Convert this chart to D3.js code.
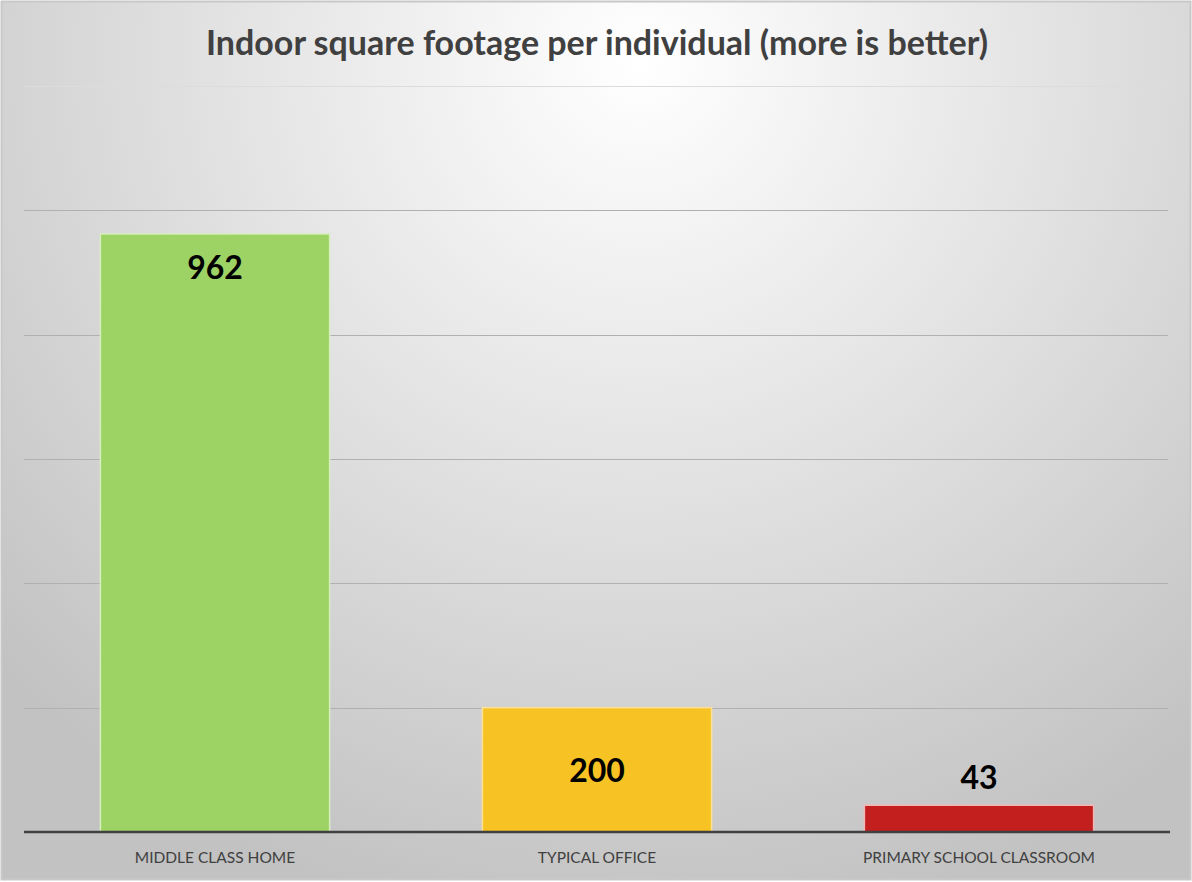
<!DOCTYPE html>
<html><head><meta charset="utf-8">
<script src="https://cdn.jsdelivr.net/npm/d3@7"></script>
<style>body{margin:0;background:#fff}svg{display:block}</style>
</head><body>
<svg id="c" width="1192" height="882"></svg>
<script>
const categories = ["MIDDLE CLASS HOME", "TYPICAL OFFICE", "PRIMARY SCHOOL CLASSROOM"];
const values = [962, 200, 43];
const colors = ["#9dd264", "#f7c223", "#c21f1e"];
const borders = ["#d6efbd", "#fbe09a", "#f2b6b5"];
const labelPos = ["inside", "center", "outside"];
const yTicks = [0, 200, 400, 600, 800, 1000, 1200];
const title = "Indoor square footage per individual (more is better)";

{
const W = 1192, H = 882;
const svg = d3.select("#c");
const defs = svg.append("defs");
const rg = defs.append("radialGradient").attr("id", "bg")
  .attr("gradientUnits", "userSpaceOnUse")
  .attr("cx", 640).attr("cy", 60).attr("r", 880);
rg.append("stop").attr("offset", "0").attr("stop-color", "#ffffff");
rg.append("stop").attr("offset", "0.45").attr("stop-color", "#e4e4e4");
rg.append("stop").attr("offset", "1").attr("stop-color", "#c2c2c2");

svg.append("rect").attr("x", 0).attr("y", 0).attr("width", W).attr("height", H).attr("fill", "#fff");
svg.append("rect").attr("x", 1.5).attr("y", 1.5).attr("width", W - 3).attr("height", H - 4)
  .attr("fill", "url(#bg)").attr("stroke", "#c8c8c8").attr("stroke-width", 2);

const pLeft = 24, pRight = 1170, pTop = 86, pBottom = 832;
const x = d3.scaleBand().domain(categories).range([pLeft, pRight]).paddingInner(0.4).paddingOuter(0.2);
const y = d3.scaleLinear().domain([0, 1200]).range([pBottom, pTop]);

svg.append("g").selectAll("line").data(yTicks.filter(d => d > 0)).join("line")
  .attr("x1", pLeft).attr("x2", pRight - 2)
  .attr("y1", d => Math.round(y(d)) + 0.5).attr("y2", d => Math.round(y(d)) + 0.5)
  .attr("stroke", d => d === 1200 ? "#dcdcdc" : "#b0b0b0").attr("stroke-width", 1.2);

svg.append("g").selectAll("rect").data(values).join("rect")
  .attr("x", (d, i) => x(categories[i]))
  .attr("y", d => y(d))
  .attr("width", x.bandwidth())
  .attr("height", d => pBottom - y(d))
  .attr("fill", (d, i) => colors[i])
  .attr("stroke", (d, i) => borders[i]).attr("stroke-width", 1.5);

svg.append("line").attr("x1", pLeft).attr("x2", pRight).attr("y1", pBottom).attr("y2", pBottom)
  .attr("stroke", "#404040").attr("stroke-width", 2.5);

svg.append("g").selectAll("text").data(categories).join("text")
  .attr("x", d => x(d) + x.bandwidth() / 2)
  .attr("y", 863)
  .attr("text-anchor", "middle")
  .attr("font-family", "Lato, 'Open Sans', sans-serif")
  .attr("font-size", 15.5).attr("fill", "#404040")
  .text(d => d);

svg.append("g").selectAll("text").data(values).join("text")
  .attr("x", (d, i) => x(categories[i]) + x.bandwidth() / 2)
  .attr("y", (d, i) => {
    const p = labelPos[i];
    if (p === "inside") return y(d) + 45;
    if (p === "center") return (y(d) + pBottom) / 2 + 12;
    return y(d) - 16;
  })
  .attr("text-anchor", "middle")
  .attr("font-family", "Lato, 'Open Sans', sans-serif")
  .attr("font-weight", "bold")
  .attr("font-size", 32).attr("fill", "#000")
  .text(d => d);

svg.append("text").attr("x", 597).attr("y", 55).attr("text-anchor", "middle")
  .attr("font-family", "Lato, 'Open Sans', sans-serif").attr("font-weight", "bold")
  .attr("font-size", 34).attr("fill", "#404040").text(title);
}
</script>
</body></html>
